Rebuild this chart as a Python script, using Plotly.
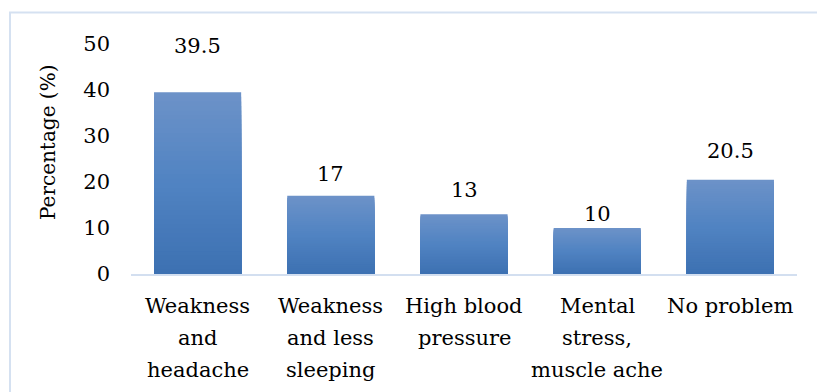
import plotly.graph_objects as go

# Survey results: reported health problems
categories = [
    "Weakness<br>and<br>headache",
    "Weakness<br>and less<br>sleeping",
    "High blood<br>pressure",
    "Mental<br>stress,<br>muscle ache",
    "No problem",
]
percentages = [39.5, 17, 13, 10, 20.5]
y_ticks = [0, 10, 20, 30, 40, 50]
y_title = "Percentage (%)"

# Pixel offsets of each value label above its bar
label_lift = [46, 22, 24, 14, 29]

W, H = 817, 392
ML, MR, MT, MB = 131, 20, 44, 118
FONT = "DejaVu Serif"
FSIZE = 21
LINE_STEP = 32      # spacing between lines of a category label
FIRST_LINE = 31.5   # first label line centre below the axis

# Vertical gradient (top light -> bottom dark) built from overlaid bars
top_rgb = (108, 146, 200)
mid_rgb = (80, 131, 194)
bot_rgb = (61, 113, 178)


def shade(t):
    # t = 0 at the top of the bar, 1 at the bottom
    if t < 0.5:
        a, b, u = top_rgb, mid_rgb, t / 0.5
    else:
        a, b, u = mid_rgb, bot_rgb, (t - 0.5) / 0.5
    return "rgb(%d,%d,%d)" % tuple(round(a[i] + (b[i] - a[i]) * u) for i in range(3))


fig = go.Figure()
steps = 40
for k in range(steps):
    frac = 1 - k / steps
    fig.add_trace(go.Bar(
        x=categories,
        y=[v * frac for v in percentages],
        marker=dict(color=shade(k / (steps - 1)), line=dict(width=0)),
        hoverinfo="skip",
        showlegend=False,
    ))

text_font = dict(family=FONT, size=FSIZE, color="black")

# Value labels above the bars
annotations = [
    dict(x=c, y=v, xref="x", yref="y", text=str(v), showarrow=False,
         yanchor="middle", yshift=lift, font=text_font)
    for c, v, lift in zip(categories, percentages, label_lift)
]

# Category labels, one annotation per line for wider line spacing
for c in categories:
    for i, line in enumerate(c.split("<br>")):
        annotations.append(dict(
            x=c, y=0, xref="x", yref="y", text=line, showarrow=False,
            xanchor="center", yanchor="middle",
            yshift=-(FIRST_LINE + i * LINE_STEP), font=text_font,
        ))

pw = W - ML - MR
ph = H - MT - MB

# Vertical axis title, centred on the chart area rather than the plot
annotations.append(dict(
    x=(48 - ML) / pw, y=(H - MB - 143) / ph, xref="paper", yref="paper",
    text=y_title, textangle=-90, showarrow=False,
    xanchor="center", yanchor="middle",
    font=dict(family=FONT, size=20, color="black"),
))

border = dict(
    type="rect", xref="paper", yref="paper",
    x0=(10 - ML) / pw, x1=(W + 20 - ML) / pw,
    y0=-(H + 20 - MT - ph) / ph, y1=(H - 12.5 - MB) / ph,
    line=dict(color="#d5e1f1", width=2), fillcolor="rgba(0,0,0,0)",
    layer="below",
)

fig.update_layout(
    width=W, height=H,
    margin=dict(l=ML, r=MR, t=MT, b=MB, pad=0),
    barmode="overlay",
    bargap=0.346,
    plot_bgcolor="white", paper_bgcolor="white",
    font=text_font,
    annotations=annotations,
    shapes=[border],
    xaxis=dict(
        showline=True, linecolor="#d3dff0", linewidth=2,
        showgrid=False, zeroline=False,
        ticks="", showticklabels=False, automargin=False,
        fixedrange=True,
    ),
    yaxis=dict(
        range=[0, 50], tickvals=y_ticks,
        showgrid=False, zeroline=False, showline=False,
        ticks="", ticklabelstandoff=20, automargin=False,
        tickfont=text_font,
        fixedrange=True,
    ),
)

fig.write_html("out.html")
